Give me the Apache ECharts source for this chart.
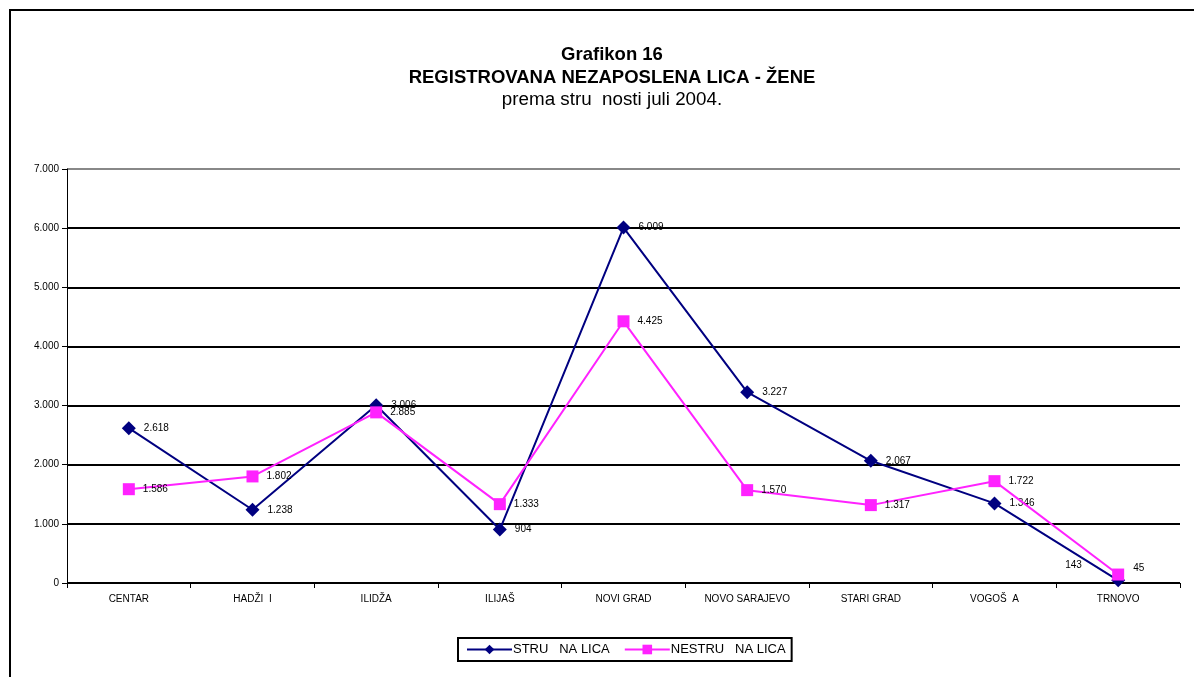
<!DOCTYPE html>
<html>
<head>
<meta charset="utf-8">
<script src="https://cdn.jsdelivr.net/npm/echarts@6/dist/echarts.min.js"></script>
<style>
html, body { margin: 0; padding: 0; background: #fff; }
#chart { width: 1194px; height: 677px; }
</style>
</head>
<body>
<div id="chart"></div>
<script>
var myChart = echarts.init(document.getElementById("chart"));

// opstine
var categories = ['CENTAR', 'HADŽI  I', 'ILIDŽA', 'ILIJAŠ', 'NOVI GRAD', 'NOVO SARAJEVO', 'STARI GRAD', 'VOGOŠ  A', 'TRNOVO'];
var strucna = [2618, 1238, 3006, 904, 6009, 3227, 2067, 1346, 45];
var nestrucna = [1586, 1802, 2885, 1333, 4425, 1570, 1317, 1722, 143];
var seriesNames = ['STRU   NA LICA', 'NESTRU   NA LICA'];

function fmt(v) {
    return String(v).replace(/\B(?=(\d{3})+(?!\d))/g, '.');
}

var labelStyle = {
    show: true,
    position: 'right',
    distance: 8,
    fontSize: 10,
    color: '#000',
    fontFamily: 'Liberation Sans',
    formatter: function (p) { return fmt(p.value); }
};

option = {
    backgroundColor: '#fff',
    textStyle: { fontFamily: 'Liberation Sans' },
    animation: false,
    title: {
        text: 'Grafikon 16\nREGISTROVANA NEZAPOSLENA LICA - ŽENE',
        subtext: 'prema stru  nosti juli 2004.',
        left: 607,
        textAlign: 'center',
        top: 38,
        itemGap: 2,
        textStyle: { fontSize: 18.5, fontWeight: 'bold', color: '#000', lineHeight: 23, fontFamily: 'Liberation Sans' },
        subtextStyle: { fontSize: 18.8, color: '#000', lineHeight: 18, fontFamily: 'Liberation Sans' }
    },
    legend: {
        data: seriesNames,
        left: 458,
        top: 638,
        width: 332,
        itemWidth: 45,
        itemHeight: 12,
        itemGap: 14,
        padding: [5, 6, 5, 8],
        borderColor: '#000',
        borderWidth: 2,
        textStyle: { fontSize: 13, color: '#000', padding: [0, 0, 0, -4] }
    },
    grid: { left: 67, right: 14, top: 169, bottom: 94 },
    xAxis: {
        type: 'category',
        data: categories,
        boundaryGap: true,
        axisLine: { lineStyle: { color: '#000', width: 1 } },
        axisTick: { show: true, alignWithLabel: false, length: 5, lineStyle: { color: '#000' } },
        axisLabel: { fontSize: 10, color: '#000', margin: 11, interval: 0 }
    },
    yAxis: {
        type: 'value',
        min: 0,
        max: 7000,
        interval: 1000,
        axisLine: { show: true, lineStyle: { color: '#000', width: 1 } },
        axisTick: { show: true, length: 5, lineStyle: { color: '#000' } },
        axisLabel: { fontSize: 10, color: '#000', margin: 8, formatter: fmt },
        splitLine: {
            show: true,
            lineStyle: { color: ['#000', '#000', '#000', '#000', '#000', '#000', '#000', '#888'], width: 2 }
        }
    },
    series: [
        {
            name: seriesNames[0],
            type: 'line',
            data: strucna,
            symbol: 'diamond',
            symbolSize: 14,
            color: '#000080',
            lineStyle: { color: '#000080', width: 2 },
            label: labelStyle,
            labelLayout: function (p) {
                if (p.dataIndex === 8) {
                    return { y: p.rect.y - 10 };
                }
            },
            z: 3
        },
        {
            name: seriesNames[1],
            type: 'line',
            data: nestrucna,
            symbol: 'rect',
            symbolSize: 12,
            color: '#ff22ff',
            lineStyle: { color: '#ff22ff', width: 2 },
            label: labelStyle,
            labelLayout: function (p) {
                if (p.dataIndex === 8) {
                    return { x: p.rect.x - 47, y: p.rect.y - 8 };
                }
            },
            z: 4
        }
    ],
    graphic: [
        {
            type: 'rect',
            shape: { x: 10, y: 10, width: 1200, height: 700 },
            style: { fill: 'none', stroke: '#000', lineWidth: 2 },
            silent: true
        }
    ]
};

myChart.setOption(option);
</script>
</body>
</html>
